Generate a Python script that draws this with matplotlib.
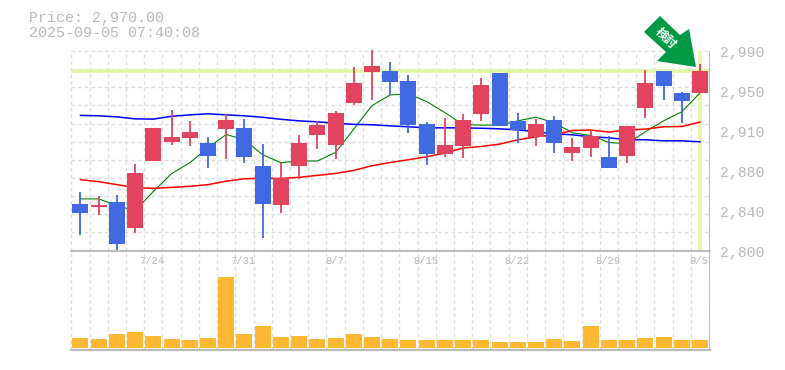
import matplotlib
matplotlib.use("Agg")
import matplotlib.pyplot as plt
from matplotlib.patches import Polygon, Rectangle

W, H = 785, 370
PRICE_PER_PX = 189.0 / 200.0

def py(y):
    return round(2800 + (251 - y) * PRICE_PER_PX, 1)

# Values
dates = ["7/24", "7/31", "8/7", "8/15", "8/22", "8/29", "9/5"]
date_idx = [4, 9, 14, 19, 24, 29, 34]
ytick_labels = ["2,800", "2,840", "2,880", "2,910", "2,950", "2,990"]

body_top_px = [204,205,202,173,128,137,132,143,120,128,166,178,143,125,113,83,66,71,81,124,145,120,85,73,121,124,120,147,136,157,126,83,71,93,71]
body_bot_px = [213,207,245,228,161,142,138,156,129,157,204,205,166,135,145,103,72,82,125,154,154,146,114,126,130,137,143,153,148,168,156,108,86,101,93]
high_px = [192,196,195,164,128,110,121,137,114,119,144,163,135,121,111,67,50,62,75,122,118,114,78,73,113,119,116,138,130,136,126,70,71,92,64]
low_px = [235,215,251,233,161,145,146,168,159,163,238,213,179,149,159,105,100,95,133,165,157,158,121,126,143,146,153,161,157,168,163,118,100,123,93]
is_up = [0,1,0,1,1,1,1,0,1,0,0,1,1,1,1,1,1,0,0,0,1,1,1,0,0,1,0,1,1,0,1,1,0,0,1]

ma_green_px = [199.3,199.3,206,211,191.7,174,163,148,134.7,140,155,163,161.3,161.3,152.7,129.3,105.7,95,94,101.7,112.7,125,125.3,125.3,121,117.3,123,133,135.7,142.7,144,132,121,112,93]
ma_red_px = [180,182,185,188,188.7,187.7,186.7,185,181.5,179,178.7,178.7,177.7,175.7,173.7,170.7,166,162.7,160,157,153.3,148.3,146.7,144.3,140,137,135,130.7,130.3,132.3,130.3,129.3,127,126.7,122.3]
ma_blue_px = [115.5,116,117,119,119.3,116.5,115,114,115,116,117.5,119.5,121,122,123.5,124.5,125,126,127,128,128,128,128.5,129,130,132,134,135,137,138,140,140,141,141,142]

volume = [10,9,14,16,12,9,8,10,71,14,22,11,12,9,10,14,11,9,8,8,8,8,8,6,6,6,9,7,22,8,8,10,11,8,8]
last_price = 2970

n = len(volume)
x = list(range(n))
opens = [py(b) if u else py(t) for t, b, u in zip(body_top_px, body_bot_px, is_up)]
closes = [py(t) if u else py(b) for t, b, u in zip(body_top_px, body_bot_px, is_up)]
highs = [py(v) for v in high_px]
lows = [py(v) for v in low_px]
ma_g = [py(v) for v in ma_green_px]
ma_r = [py(v) for v in ma_red_px]
ma_b = [py(v) for v in ma_blue_px]

RED, BLUE = "#E2435F", "#4169E1"
GRID, FRAME, TXT = "#DDDDDD", "#BBBBBB", "#B8B8B8"
YEL = "#E3F7A8"
ORANGE = "#FFB833"
MONO = "Liberation Mono"

fig = plt.figure(figsize=(W / 100, H / 100), dpi=100, facecolor="white")

def axpx(x0, y0, x1, y1):
    return fig.add_axes([x0 / W, 1 - y1 / H, (x1 - x0) / W, (y1 - y0) / H])

XL = (-0.548, 34.55)
ax = axpx(70.5, 51, 710, 250.5)
av = axpx(70.5, 250.5, 710, 350)
for a in (ax, av):
    a.set_xlim(*XL)
    a.patch.set_alpha(0)
    for s in a.spines.values():
        s.set_visible(False)
    a.tick_params(left=False, bottom=False, right=False, labelleft=False, labelbottom=False)
    for i in range(n + 1):
        a.axvline(i - 0.5, color=GRID, lw=1.0, ls=(0, (2.6, 2.2)), zorder=1, clip_on=False)
    a.axvline(XL[1], color=FRAME, lw=1.4, zorder=6)
ax.set_ylim(2800, 2989)
av.set_ylim(-2, 97.5)

# horizontal grid
for k in range(11):
    ax.axhline(2800 + k * 189.0 / 11, color=GRID, lw=1.0, ls=(0, (2.6, 2.2)), zorder=1)
ax.axhline(2989, color=GRID, lw=1.0, ls=(0, (2.6, 2.2)), zorder=1, clip_on=False)
av.axhline(97.5, color=FRAME, lw=1.4, zorder=6, clip_on=False)
av.axhline(-2, color=FRAME, lw=1.6, zorder=6, clip_on=False)

# latest price markers
ax.axhline(last_price, color=YEL, lw=2.6, zorder=2)
ax.axvline(x[-1], color=YEL, lw=2.6, zorder=2)

# moving averages
ax.plot(x, ma_g, color="#008000", lw=0.8, zorder=3, solid_joinstyle="miter")
ax.plot(x, ma_b, color="#0000FF", lw=1.1, zorder=3)
ax.plot(x, ma_r, color="#FF0000", lw=1.1, zorder=3)

# candles
BW = 16 / 18.235
for i in x:
    col = RED if is_up[i] else BLUE
    ax.vlines(i, lows[i], highs[i], color=col, lw=1.3, zorder=4, clip_on=False)
    ax.add_patch(Rectangle((i - BW / 2, min(opens[i], closes[i])), BW,
                           abs(closes[i] - opens[i]), facecolor=col, edgecolor="none", zorder=5))

# volume bars
av.bar(x, volume, width=BW, color=ORANGE, zorder=3)

# tick labels
for lab, k in zip(ytick_labels, range(6)):
    fig.text(720 / W, 1 - (253 - k * 40) / H, lab, family=MONO, fontsize=10.6,
             color=TXT, ha="left", va="center")
for lab, i in zip(dates, date_idx):
    xp = 80 + i * 18.235 - 1
    fig.text(xp / W, 1 - 260.5 / H, lab, family=MONO, fontsize=7.6,
             color=TXT, ha="center", va="center", zorder=7)

# header
fig.text(29 / W, 1 - 18 / H, f"Price: {last_price:,.2f}", family=MONO, fontsize=10.8,
         color=TXT, ha="left", va="center")
fig.text(29 / W, 1 - 33 / H, "2025-09-05 07:40:08", family=MONO, fontsize=10.8,
         color=TXT, ha="left", va="center")

# arrow badge
arrow_px = [(660, 16), (680, 35), (689, 29), (696, 67), (657, 61), (666, 52), (644, 32)]
fig.add_artist(Polygon([(a / W, 1 - b / H) for a, b in arrow_px], closed=True,
                       facecolor="#009944", edgecolor="none", transform=fig.transFigure, zorder=10))
fig.text(666 / W, 1 - 38 / H, "検討", family=["Noto Sans CJK JP", "DejaVu Sans"], fontsize=8.8,
         fontweight="bold", color="white", rotation=-45, ha="center", va="center",
         rotation_mode="anchor", zorder=11)

fig.savefig("out.png", dpi=100)
